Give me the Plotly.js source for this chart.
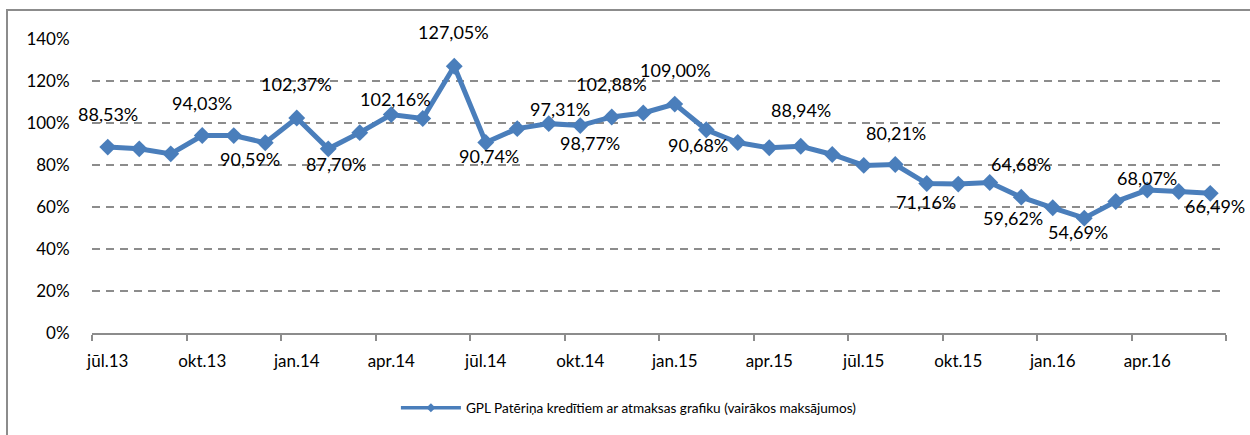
<!DOCTYPE html>
<html>
<head>
<meta charset="utf-8">
<script src="https://cdn.plot.ly/plotly-3.0.1.min.js"></script>
<style>
  html, body { margin: 0; padding: 0; background: #fff; }
  #wrap { position: relative; width: 1250px; height: 435px; overflow: hidden; }
  #chart { position: absolute; left: 0; top: 0; width: 1250px; height: 435px; }
  #frame { position: absolute; left: 6px; top: 9px; width: 1300px; height: 500px;
           border-left: 2px solid #8c8c8c; border-top: 2px solid #8c8c8c; pointer-events: none; }
</style>
</head>
<body>
<div id="wrap">
  <div id="chart"></div>
  <div id="frame"></div>
</div>
<script>
// ---- data ----
const months = [
  "jūl.13","aug.13","sep.13","okt.13","nov.13","dec.13",
  "jan.14","feb.14","mar.14","apr.14","mai.14","jūn.14",
  "jūl.14","aug.14","sep.14","okt.14","nov.14","dec.14",
  "jan.15","feb.15","mar.15","apr.15","mai.15","jūn.15",
  "jūl.15","aug.15","sep.15","okt.15","nov.15","dec.15",
  "jan.16","feb.16","mar.16","apr.16","mai.16","jūn.16"
];
const gplValues = [
  88.53, 87.7, 85.3, 94.03, 94.0, 90.59,
  102.37, 87.70, 95.4, 104.0, 102.16, 127.05,
  90.74, 97.31, 99.7, 98.77, 102.88, 104.8,
  109.00, 96.8, 90.68, 88.2, 88.94, 85.0,
  79.8, 80.21, 71.16, 70.9, 71.7, 64.68,
  59.62, 54.69, 62.6, 68.07, 67.4, 66.49
];
const labelledIdx = [0, 3, 5, 6, 7, 10, 11, 12, 13, 15, 16, 18, 20, 22, 25, 26, 29, 30, 31, 33, 35];
const tickIdx = [0, 3, 6, 9, 12, 15, 18, 21, 24, 27, 30, 33];
const seriesName = "GPL Patēriņa kredītiem ar atmaksas grafiku (vairākos maksājumos)";

// ---- label placement (screen px offsets: dx right, dy down) ----
const labelOffsets = {
  0:[0,-33], 3:[0,-33], 5:[-15,16], 6:[0,-34], 7:[8,15], 10:[-27,-19],
  11:[-1,-34], 12:[3,14], 13:[43,-20], 15:[10,17], 16:[0,-33], 18:[1,-34],
  20:[-40,2], 22:[0,-36], 25:[1,-32], 26:[-1,18], 29:[0,-33], 30:[-40,10],
  31:[-6,14], 33:[0,-12], 35:[5,13]
};

const xIdx = months.map((m, i) => i);
const fmt = v => v.toFixed(2).replace('.', ',') + '%';
const FONT = 'Lato, "Open Sans", sans-serif';
const BLUE = '#4a7ebb';

const trace = {
  x: xIdx,
  y: gplValues,
  type: 'scatter',
  mode: 'lines+markers',
  name: seriesName,
  showlegend: false,
  line: { color: BLUE, width: 5 },
  marker: { symbol: 'diamond', size: 13, color: BLUE },
  hoverinfo: 'skip'
};

// legend entry only (no data points drawn)
const legendTrace = {
  x: [null], y: [null],
  type: 'scatter', mode: 'lines+markers',
  name: seriesName, showlegend: true,
  line: { color: BLUE, width: 3.5 },
  marker: { symbol: 'diamond', size: 7, color: BLUE },
  hoverinfo: 'skip'
};

const annotations = labelledIdx.map(i => ({
  x: xIdx[i], y: gplValues[i], xref: 'x', yref: 'y',
  text: fmt(gplValues[i]), showarrow: false,
  xshift: labelOffsets[i][0], yshift: -labelOffsets[i][1],
  font: { family: FONT, size: 18, color: '#000' }
}));

const boundaries = [];
for (let k = 0; k <= months.length; k += 3) boundaries.push(k - 0.5);

const layout = {
  width: 1250, height: 435,
  margin: { l: 92, r: 24, t: 39, b: 102, pad: 0 },
  paper_bgcolor: '#fff', plot_bgcolor: '#fff',
  showlegend: true,
  legend: {
    orientation: 'h', x: 0.268, xanchor: 'left', y: -0.255, yanchor: 'middle',
    itemwidth: 60,
    font: { family: FONT, size: 13.6, color: '#000' }, bgcolor: 'rgba(0,0,0,0)'
  },
  xaxis: {
    range: [-0.5, months.length - 0.5],
    tickvals: tickIdx.map(i => xIdx[i]),
    ticktext: tickIdx.map(i => months[i]),
    ticks: '', showgrid: false, zeroline: false,
    showline: true, linecolor: '#8c8c8c', linewidth: 2,
    tickfont: { family: FONT, size: 17, color: '#000' },
    ticklabelstandoff: 12,
    minor: { tickvals: boundaries, ticks: 'outside', ticklen: 6, tickwidth: 2, tickcolor: '#8c8c8c', showgrid: false }
  },
  yaxis: {
    range: [0, 140], dtick: 20, tick0: 0, ticksuffix: '%',
    showline: false, zeroline: false,
    showgrid: true, gridcolor: '#8c8c8c', gridwidth: 2, griddash: '8px,6px',
    ticks: 'outside', ticklen: 18, tickcolor: 'rgba(0,0,0,0)',
    tickfont: { family: FONT, size: 17, color: '#000' }
  },
  annotations: annotations
};

Plotly.newPlot('chart', [trace, legendTrace], layout, { displayModeBar: false, staticPlot: true });
</script>
</body>
</html>
